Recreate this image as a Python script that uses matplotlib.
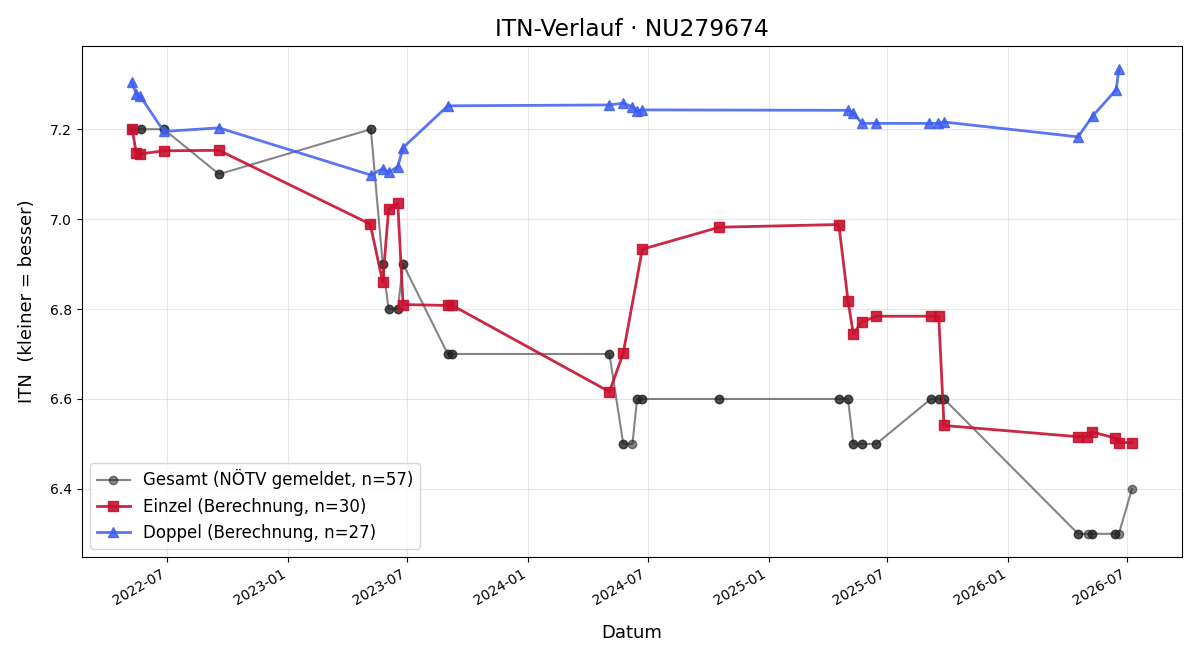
import pandas as pd
import matplotlib
matplotlib.use("Agg")
import matplotlib.pyplot as plt
import matplotlib.dates as mdates

# Gesamt (NÖTV gemeldet) - mehrere Meldungen pro Datum
gesamt_datum = [
    "2022-05-09",
    "2022-05-22", "2022-05-22",
    "2022-06-26", "2022-06-26",
    "2022-09-18", "2022-09-18",
    "2023-05-07", "2023-05-07",
    "2023-05-25", "2023-05-25",
    "2023-06-03", "2023-06-03",
    "2023-06-17", "2023-06-17",
    "2023-06-25", "2023-06-25",
    "2023-09-01", "2023-09-01",
    "2023-09-08", "2023-09-08",
    "2024-05-04", "2024-05-04",
    "2024-05-25", "2024-05-25",
    "2024-06-08",
    "2024-06-15", "2024-06-15",
    "2024-06-23", "2024-06-23",
    "2024-10-18", "2024-10-18",
    "2025-04-18", "2025-04-18",
    "2025-05-02", "2025-05-02",
    "2025-05-10", "2025-05-10",
    "2025-05-23", "2025-05-23",
    "2025-06-14", "2025-06-14",
    "2025-09-05", "2025-09-05",
    "2025-09-17", "2025-09-17",
    "2025-09-25", "2025-09-25",
    "2026-04-17", "2026-04-17",
    "2026-05-02",
    "2026-05-08", "2026-05-08",
    "2026-06-12", "2026-06-12",
    "2026-06-18",
    "2026-07-08",
]
gesamt_itn = [
    7.2,
    7.2, 7.2,
    7.2, 7.2,
    7.1, 7.1,
    7.2, 7.2,
    6.9, 6.9,
    6.8, 6.8,
    6.8, 6.8,
    6.9, 6.9,
    6.7, 6.7,
    6.7, 6.7,
    6.7, 6.7,
    6.5, 6.5,
    6.5,
    6.6, 6.6,
    6.6, 6.6,
    6.6, 6.6,
    6.6, 6.6,
    6.6, 6.6,
    6.5, 6.5,
    6.5, 6.5,
    6.5, 6.5,
    6.6, 6.6,
    6.6, 6.6,
    6.6, 6.6,
    6.3, 6.3,
    6.3,
    6.3, 6.3,
    6.3, 6.3,
    6.3,
    6.4,
]

# Einzel (Berechnung)
einzel_datum = [
    "2022-05-09", "2022-05-15", "2022-05-21", "2022-06-26", "2022-09-18",
    "2023-05-06", "2023-05-25", "2023-06-03", "2023-06-17", "2023-06-25",
    "2023-09-01", "2023-09-08", "2024-05-04", "2024-05-25", "2024-06-23",
    "2024-10-18", "2025-04-18", "2025-05-02", "2025-05-10", "2025-05-23",
    "2025-06-14", "2025-09-05", "2025-09-17", "2025-09-25", "2026-04-17",
    "2026-05-01", "2026-05-08", "2026-06-12", "2026-06-18", "2026-07-08",
]
einzel_itn = [
    7.200, 7.147, 7.145, 7.152, 7.153,
    6.989, 6.860, 7.022, 7.035, 6.810,
    6.808, 6.808, 6.616, 6.702, 6.933,
    6.982, 6.988, 6.818, 6.745, 6.771,
    6.784, 6.784, 6.784, 6.541, 6.516,
    6.516, 6.527, 6.513, 6.503, 6.503,
]

# Doppel (Berechnung)
doppel_datum = [
    "2022-05-08", "2022-05-15", "2022-05-21", "2022-06-26", "2022-09-18",
    "2023-05-07", "2023-05-25", "2023-06-03", "2023-06-17", "2023-06-25",
    "2023-09-01", "2024-05-04", "2024-05-25", "2024-06-08", "2024-06-15",
    "2024-06-23", "2025-05-02", "2025-05-10", "2025-05-23", "2025-06-14",
    "2025-09-02", "2025-09-16", "2025-09-25", "2026-04-17", "2026-05-09",
    "2026-06-14", "2026-06-18",
]
doppel_itn = [
    7.305, 7.279, 7.274, 7.195, 7.203,
    7.098, 7.112, 7.104, 7.117, 7.159,
    7.252, 7.254, 7.258, 7.250, 7.240,
    7.243, 7.242, 7.237, 7.213, 7.213,
    7.213, 7.213, 7.216, 7.183, 7.229,
    7.288, 7.333,
]

fig, ax = plt.subplots(figsize=(12, 6.6), dpi=100)

ax.plot(pd.to_datetime(gesamt_datum), gesamt_itn, color="#222222", alpha=0.55,
        marker="o", markersize=6, linewidth=1.5,
        label=f"Gesamt (NÖTV gemeldet, n={len(gesamt_itn)})")
ax.plot(pd.to_datetime(einzel_datum), einzel_itn, color="#c8102e", alpha=0.9,
        marker="s", markersize=7, linewidth=2,
        label=f"Einzel (Berechnung, n={len(einzel_itn)})")
ax.plot(pd.to_datetime(doppel_datum), doppel_itn, color="#3d5ef0", alpha=0.85,
        marker="^", markersize=7, linewidth=2,
        label=f"Doppel (Berechnung, n={len(doppel_itn)})")

ax.set_title("ITN-Verlauf · NU279674", fontsize=16.8, pad=7)
ax.set_xlabel("Datum", fontsize=13, labelpad=12)
ax.set_ylabel("ITN  (kleiner = besser)", fontsize=13, labelpad=10)
ax.grid(True, alpha=0.3)
ax.legend(loc="lower left", fontsize=12)

ax.xaxis.set_major_locator(mdates.MonthLocator(bymonth=[1, 7]))
ax.xaxis.set_major_formatter(mdates.DateFormatter("%Y-%m"))
fig.autofmt_xdate()

fig.subplots_adjust(left=0.068, right=0.985, top=0.93, bottom=0.156)
fig.savefig("out.png")
